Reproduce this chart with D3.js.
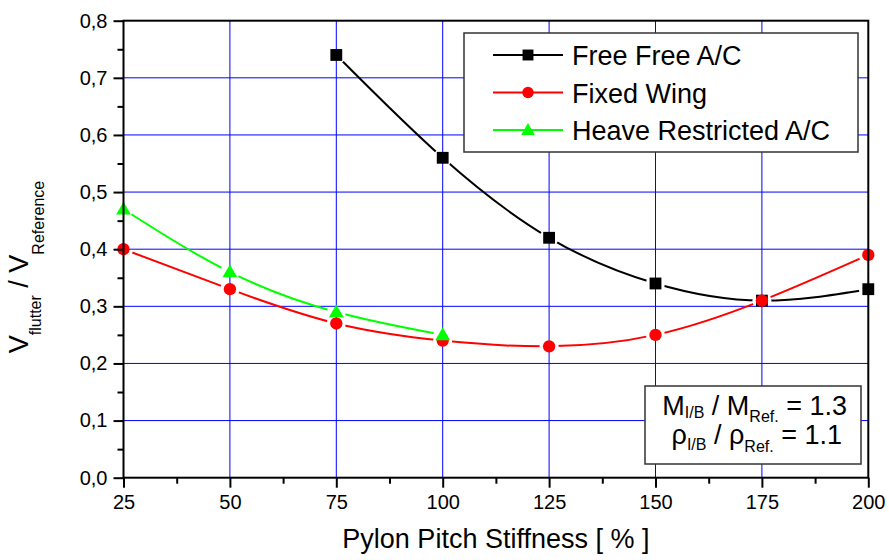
<!DOCTYPE html>
<html>
<head>
<meta charset="utf-8">
<script src="https://cdn.jsdelivr.net/npm/d3@7"></script>
<style>
  body { margin: 0; background: #fff; }
  svg { display: block; font-family: "Liberation Sans", Arial, sans-serif; }
</style>
</head>
<body>
<svg id="chart"></svg>
<script>
// data
const stiffness = [25, 50, 75, 100, 125, 150, 175, 200];
const freeFree = [null, null, 0.74, 0.56, 0.42, 0.34, 0.31, 0.33];
const fixedWing = [0.40, 0.33, 0.27, 0.24, 0.23, 0.25, 0.31, 0.39];
const heaveRestricted = [0.47, 0.36, 0.29, 0.25, null, null, null, null];
const seriesNames = ["Free Free A/C", "Fixed Wing", "Heave Restricted A/C"];
const xTicks = [25, 50, 75, 100, 125, 150, 175, 200];
const yTicks = [0, 0.1, 0.2, 0.3, 0.4, 0.5, 0.6, 0.7, 0.8];

var svgWidth = 889, svgHeight = 560;
var svg = d3.select("#chart")
    .attr("width", svgWidth)
    .attr("height", svgHeight);

var x = d3.scaleLinear().domain([25, 200]).range([123.5, 868.3]);
var y = d3.scaleLinear().domain([0, 0.8]).range([477.7, 20.7]);

var series = [
    { name: seriesNames[0], values: freeFree, color: "#000000", symbol: d3.symbolSquare, size: 140 },
    { name: seriesNames[1], values: fixedWing, color: "#ff0000", symbol: d3.symbolCircle, size: 120 },
    { name: seriesNames[2], values: heaveRestricted, color: "#00ff00", symbol: d3.symbolTriangle, size: 95 }
];
series.forEach(s => {
    s.points = stiffness.map((v, i) => ({ x: v, y: s.values[i] })).filter(d => d.y != null);
});

// grid
var grid = svg.append("g");
grid.selectAll(".gx").data(xTicks.slice(1, -1)).join("line")
    .attr("x1", d => x(d)).attr("x2", d => x(d))
    .attr("y1", y(0)).attr("y2", y(0.8))
    .attr("stroke", "#0000ff").attr("stroke-width", 1);
grid.selectAll(".gy").data(yTicks.slice(1, -1)).join("line")
    .attr("x1", x(25)).attr("x2", x(200))
    .attr("y1", d => y(d)).attr("y2", d => y(d))
    .attr("stroke", "#0000ff").attr("stroke-width", 1);

// masks so the lines stop short of the symbols
var defs = svg.append("defs");
series.forEach((s, i) => {
    var m = defs.append("mask").attr("id", "gap" + i)
        .attr("maskUnits", "userSpaceOnUse")
        .attr("x", 0).attr("y", 0).attr("width", svgWidth).attr("height", svgHeight);
    m.append("rect").attr("width", svgWidth).attr("height", svgHeight).attr("fill", "#fff");
    m.selectAll("circle").data(s.points).join("circle")
        .attr("cx", d => x(d.x)).attr("cy", d => y(d.y)).attr("r", 9.5).attr("fill", "#000");
});

var line = d3.line()
    .x(d => x(d.x))
    .y(d => y(d.y))
    .curve(d3.curveNatural);

series.forEach((s, i) => {
    svg.append("path")
        .datum(s.points)
        .attr("fill", "none")
        .attr("stroke", s.color)
        .attr("stroke-width", 2)
        .attr("mask", "url(#gap" + i + ")")
        .attr("d", line);
});
series.forEach(s => {
    svg.append("g").selectAll("path").data(s.points).join("path")
        .attr("transform", d => "translate(" + x(d.x) + "," + (y(d.y) + (s.symbol === d3.symbolTriangle ? 1 : 0)) + ")")
        .attr("d", d3.symbol(s.symbol, s.size))
        .attr("fill", s.color);
});

// axes
var fmt = d => d3.format(".1f")(d).replace(".", ",");
var xMinor = d3.range(37.5, 200, 25);
var yMinor = d3.range(0.05, 0.8, 0.1);

function styleAxis(g) {
    g.select(".domain").remove();
    g.selectAll("line").attr("stroke", "#000").attr("stroke-width", 2);
    g.selectAll("text").attr("fill", "#000").style("font-size", "20px");
}

svg.append("g")
    .attr("transform", "translate(0," + y(0) + ")")
    .call(d3.axisBottom(x).tickValues(xTicks).tickSize(10).tickPadding(7).tickFormat(d3.format("d")))
    .call(styleAxis);
svg.append("g")
    .attr("transform", "translate(0," + y(0) + ")")
    .call(d3.axisBottom(x).tickValues(xMinor).tickSize(6).tickFormat(""))
    .call(styleAxis);
svg.append("g")
    .attr("transform", "translate(" + x(25) + ",0)")
    .call(d3.axisLeft(y).tickValues(yTicks).tickSize(10).tickPadding(6).tickFormat(fmt))
    .call(styleAxis);
svg.append("g")
    .attr("transform", "translate(" + x(25) + ",0)")
    .call(d3.axisLeft(y).tickValues(yMinor).tickSize(6).tickFormat(""))
    .call(styleAxis);

svg.append("rect")
    .attr("x", x(25)).attr("y", y(0.8))
    .attr("width", x(200) - x(25)).attr("height", y(0) - y(0.8))
    .attr("fill", "none").attr("stroke", "#000").attr("stroke-width", 2);

// axis titles
svg.append("text")
    .attr("x", (x(25) + x(200)) / 2).attr("y", 548)
    .attr("text-anchor", "middle")
    .style("font-size", "27px")
    .text("Pylon Pitch Stiffness [ % ]");

var yt = svg.append("text")
    .attr("transform", "translate(28,267) rotate(-90)")
    .attr("text-anchor", "middle")
    .style("font-size", "27px");
yt.append("tspan").text("V");
yt.append("tspan").attr("dy", 13).style("font-size", "16px").text("flutter");
yt.append("tspan").attr("dy", -13).text(" / V");
yt.append("tspan").attr("dy", 16).style("font-size", "16px").text("Reference");

// legend
var lg = svg.append("g");
lg.append("rect")
    .attr("x", 464).attr("y", 33).attr("width", 394).attr("height", 119)
    .attr("fill", "#fff").attr("stroke", "#333").attr("stroke-width", 1.5);
series.forEach((s, i) => {
    var cy = 55 + i * 37.5;
    lg.append("line")
        .attr("x1", 493).attr("x2", 563).attr("y1", cy).attr("y2", cy)
        .attr("stroke", s.color).attr("stroke-width", 2);
    lg.append("path")
        .attr("transform", "translate(528," + (cy + (s.symbol === d3.symbolTriangle ? 1 : 0)) + ")")
        .attr("d", d3.symbol(s.symbol, s.size * 0.85))
        .attr("fill", s.color);
    lg.append("text")
        .attr("x", 572).attr("y", cy + 10)
        .style("font-size", "27px")
        .text(s.name);
});

// annotation box
var ib = svg.append("g");
ib.append("rect")
    .attr("x", 645).attr("y", 386).attr("width", 216).attr("height", 78)
    .attr("fill", "#fff").attr("stroke", "#333").attr("stroke-width", 1.5);
var t1 = ib.append("text").attr("x", 847).attr("y", 415).attr("text-anchor", "end").style("font-size", "27px");
t1.append("tspan").text("M");
t1.append("tspan").attr("dy", 3).style("font-size", "16px").text("I/B");
t1.append("tspan").attr("dy", -3).text(" / M");
t1.append("tspan").attr("dy", 7).style("font-size", "16px").text("Ref.");
t1.append("tspan").attr("dy", -7).text(" = 1.3");
var t2 = ib.append("text").attr("x", 842).attr("y", 444).attr("text-anchor", "end").style("font-size", "27px");
t2.append("tspan").text("ρ");
t2.append("tspan").attr("dy", 6).style("font-size", "16px").text("I/B");
t2.append("tspan").attr("dy", -6).text(" / ρ");
t2.append("tspan").attr("dy", 8).style("font-size", "16px").text("Ref.");
t2.append("tspan").attr("dy", -8).text(" = 1.1");
</script>
</body>
</html>
